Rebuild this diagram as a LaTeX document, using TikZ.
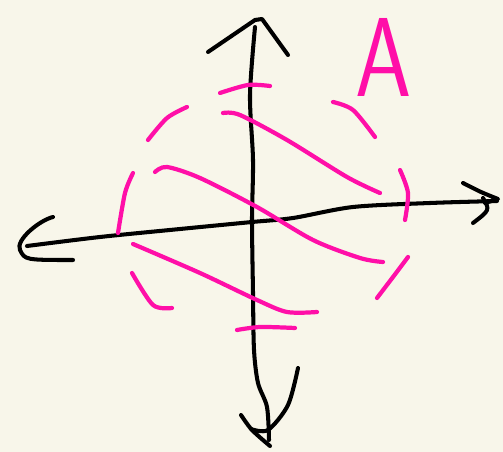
\documentclass[tikz,border=0pt]{standalone}
\usepackage{tikz}
\usetikzlibrary{positioning}
\definecolor{SketchPaper}{HTML}{F8F6EA}
\definecolor{SketchInk}{HTML}{000000}
\definecolor{SketchPink}{HTML}{FF0FA8}
\tikzset{
    % Axis strokes
    axisline/.style={
        draw=SketchInk,
        line width=2.3pt,
        line cap=round,
        line join=round
    },
    % Pink pen strokes
    pinkline/.style={
        draw=SketchPink,
        line width=2.4pt,
        line cap=round,
        line join=round
    },
    % Hand letter
    letternode/.style={
        text=SketchPink,
        font=\sffamily\fontsize{64}{64}\selectfont,
        inner sep=0pt,
        xscale=0.8
    }
}
\begin{document}
\begin{tikzpicture}[x=0.02cm, y=-0.02cm]
        % Paper
        \fill[SketchPaper] (0,0) rectangle (503,452);
        \useasboundingbox (0,0) rectangle (503,452);

        % Vertical axis
        \draw[axisline] plot[smooth] coordinates {(255,27) (250,95) (253,160) (252,220) (253,293) (254,350) (258,383) (267,407) (269,440)};
        \draw[axisline] (208,52) -- (255,20) -- (262,19) -- (288,55);
        \draw[axisline] plot[smooth] coordinates {(241,415) (252,430) (270,446)};
        \draw[axisline] plot[smooth] coordinates {(251,429) (268,430) (288,405) (298,368)};

        % Horizontal axis
        \draw[axisline] plot[smooth] coordinates {(27,246) (100,237) (180,229) (252,222) (293,218) (353,207) (430,203) (497,201)};
        \draw[axisline] (53,217) .. controls (40,220) and (15,240) .. (20,250) .. controls (25,260) .. (73,260);
        \draw[axisline] plot[smooth] coordinates {(463,183) (481,192) (498,199)} -- (485,203);
        \draw[axisline] (483,198) .. controls (490,210) .. (473,223);

        % Dashed ring
        \draw[pinkline] plot[smooth] coordinates {(220,93) (248,85) (270,86)};
        \draw[pinkline] plot[smooth] coordinates {(148,140) (167,118) (187,107)};
        \draw[pinkline] plot[smooth] coordinates {(133,173) (125,193) (118,233)};
        \draw[pinkline] plot[smooth] coordinates {(132,273) (153,305) (172,308)};
        \draw[pinkline] plot[smooth] coordinates {(237,330) (260,327) (295,328)};
        \draw[pinkline] plot[smooth] coordinates {(377,298) (393,277) (408,257)};
        \draw[pinkline] plot[smooth] coordinates {(400,170) (408,193) (405,220)};
        \draw[pinkline] plot[smooth] coordinates {(333,102) (353,110) (375,137)};

        % Hatching
        \draw[pinkline] plot[smooth] coordinates {(223,113) (240,115) (287,140) (347,177) (380,193)};
        \draw[pinkline] plot[smooth] coordinates {(155,172) (167,167) (200,178) (257,207) (313,240) (360,258) (383,262)};
        \draw[pinkline] plot[smooth] coordinates {(133,244) (200,273) (257,300) (287,312) (317,312)};

        % Label
        \node[letternode] (letA) at (384,57) {A};
\end{tikzpicture}
\end{document}
